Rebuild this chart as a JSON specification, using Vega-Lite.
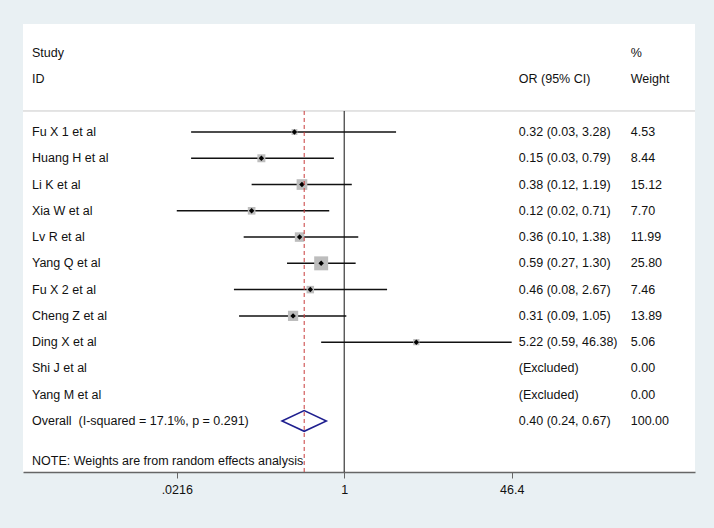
{
  "$schema": "https://vega.github.io/schema/vega-lite/v6.json",
  "width": 672,
  "height": 448,
  "autosize": {"type": "none"},
  "padding": {"left": 23, "top": 24, "right": 19, "bottom": 56},
  "background": "#e9f0f3",
  "view": {"fill": "white", "stroke": null},
  "config": {
    "font": "Liberation Sans",
    "text": {"font": "Liberation Sans", "fontSize": 12.5, "color": "#111111", "baseline": "middle", "align": "left"}
  },
  "datasets": {
    "studies": [
      {"row": 1, "study": "Fu X 1 et al", "type": "study", "or": 0.32, "lower": 0.03, "upper": 3.28, "weight": 4.53, "ci": "0.32 (0.03, 3.28)", "wlabel": "4.53"},
      {"row": 2, "study": "Huang H et al", "type": "study", "or": 0.15, "lower": 0.03, "upper": 0.79, "weight": 8.44, "ci": "0.15 (0.03, 0.79)", "wlabel": "8.44"},
      {"row": 3, "study": "Li K et al", "type": "study", "or": 0.38, "lower": 0.12, "upper": 1.19, "weight": 15.12, "ci": "0.38 (0.12, 1.19)", "wlabel": "15.12"},
      {"row": 4, "study": "Xia W et al", "type": "study", "or": 0.12, "lower": 0.0216, "upper": 0.71, "weight": 7.70, "ci": "0.12 (0.02, 0.71)", "wlabel": "7.70"},
      {"row": 5, "study": "Lv R et al", "type": "study", "or": 0.36, "lower": 0.10, "upper": 1.38, "weight": 11.99, "ci": "0.36 (0.10, 1.38)", "wlabel": "11.99"},
      {"row": 6, "study": "Yang Q et al", "type": "study", "or": 0.59, "lower": 0.27, "upper": 1.30, "weight": 25.80, "ci": "0.59 (0.27, 1.30)", "wlabel": "25.80"},
      {"row": 7, "study": "Fu X 2 et al", "type": "study", "or": 0.46, "lower": 0.08, "upper": 2.67, "weight": 7.46, "ci": "0.46 (0.08, 2.67)", "wlabel": "7.46"},
      {"row": 8, "study": "Cheng Z et al", "type": "study", "or": 0.31, "lower": 0.09, "upper": 1.05, "weight": 13.89, "ci": "0.31 (0.09, 1.05)", "wlabel": "13.89"},
      {"row": 9, "study": "Ding X et al", "type": "study", "or": 5.22, "lower": 0.59, "upper": 46.38, "weight": 5.06, "ci": "5.22 (0.59, 46.38)", "wlabel": "5.06"},
      {"row": 10, "study": "Shi J et al", "type": "study", "or": null, "lower": null, "upper": null, "weight": 0, "ci": "(Excluded)", "wlabel": "0.00"},
      {"row": 11, "study": "Yang M et al", "type": "study", "or": null, "lower": null, "upper": null, "weight": 0, "ci": "(Excluded)", "wlabel": "0.00"},
      {"row": 12, "study": "Overall\u00a0 (I-squared = 17.1%, p = 0.291)", "type": "overall", "or": 0.40, "lower": 0.24, "upper": 0.67, "weight": 100, "ci": "0.40 (0.24, 0.67)", "wlabel": "100.00"}
    ]
  },
  "data": {"name": "studies"},
  "layer": [
    {
      "transform": [{"filter": "datum.type == 'overall'"}],
      "mark": {"type": "rule", "color": "#c8c8c8", "strokeWidth": 1},
      "encoding": {"y": {"datum": 0.2, "type": "quantitative", "scale": {"domain": [-3.111, 13.943], "reverse": true, "nice": false, "zero": false}, "axis": null}}
    },
    {
      "transform": [{"filter": "datum.type == 'overall'"}],
      "mark": {"type": "rule", "color": "#111111", "strokeWidth": 1},
      "encoding": {
        "x": {"datum": 1, "type": "quantitative", "scale": {"type": "log", "domain": [0.000638, 3088], "nice": false}, "axis": {
          "values": [0.0216, 1, 46.4],
          "labelExpr": "datum.value < 0.5 ? '.0216' : (datum.value < 2 ? '1' : '46.4')",
          "grid": false, "title": null,
          "domainColor": "#666666", "domainWidth": 1.5,
          "tickColor": "#666666", "tickWidth": 1, "tickSize": 6,
          "labelFont": "Liberation Sans", "labelFontSize": 12.5, "labelColor": "#111111",
          "labelPadding": 5, "labelFlush": false, "labelOverlap": false
        }},
        "y": {"datum": 0.2, "type": "quantitative"},
        "y2": {"datum": 13.943}
      }
    },
    {
      "transform": [{"filter": "datum.type == 'study' && isValid(datum.lower)"}],
      "mark": {"type": "rule", "color": "#111111", "strokeWidth": 1.5},
      "encoding": {
        "x": {"field": "lower", "type": "quantitative"},
        "x2": {"field": "upper"},
        "y": {"field": "row", "type": "quantitative"}
      }
    },
    {
      "transform": [{"filter": "datum.type == 'study' && isValid(datum.or)"}],
      "mark": {"type": "point", "shape": "square", "filled": true, "color": "#bdbdbd", "opacity": 1},
      "encoding": {
        "x": {"field": "or", "type": "quantitative"},
        "y": {"field": "row", "type": "quantitative"},
        "size": {"field": "weight", "type": "quantitative", "scale": {"domain": [0, 25.8], "range": [0, 195]}, "legend": null}
      }
    },
    {
      "transform": [{"filter": "datum.type == 'study' && isValid(datum.or)"}],
      "mark": {"type": "point", "shape": "diamond", "filled": true, "color": "#000000", "size": 30, "opacity": 1},
      "encoding": {
        "x": {"field": "or", "type": "quantitative"},
        "y": {"field": "row", "type": "quantitative"}
      }
    },
    {
      "transform": [{"filter": "datum.type == 'overall'"}],
      "mark": {"type": "point", "shape": "M-1,0L0,-0.466L1,0L0,0.466Z", "filled": false, "stroke": "#1f1f8f", "strokeWidth": 1.5, "size": 1971, "opacity": 1},
      "encoding": {
        "x": {"field": "or", "type": "quantitative"},
        "y": {"field": "row", "type": "quantitative"}
      }
    },
    {
      "transform": [{"filter": "datum.type == 'overall'"}],
      "mark": {"type": "rule", "color": "#c83a3a", "strokeWidth": 1, "strokeDash": [4, 3]},
      "encoding": {
        "x": {"field": "or", "type": "quantitative"},
        "y": {"datum": 0.2, "type": "quantitative"},
        "y2": {"datum": 13.943}
      }
    },
    {
      "mark": {"type": "text"},
      "encoding": {
        "x": {"datum": 0.000784, "type": "quantitative"},
        "y": {"field": "row", "type": "quantitative"},
        "text": {"field": "study"}
      }
    },
    {
      "mark": {"type": "text"},
      "encoding": {
        "x": {"datum": 54.6, "type": "quantitative"},
        "y": {"field": "row", "type": "quantitative"},
        "text": {"field": "ci"}
      }
    },
    {
      "mark": {"type": "text"},
      "encoding": {
        "x": {"datum": 709, "type": "quantitative"},
        "y": {"field": "row", "type": "quantitative"},
        "text": {"field": "wlabel"}
      }
    },
    {
      "transform": [{"filter": "datum.type == 'overall'"}],
      "mark": {"type": "text", "text": "Study"},
      "encoding": {"x": {"datum": 0.000784, "type": "quantitative"}, "y": {"datum": -2, "type": "quantitative"}}
    },
    {
      "transform": [{"filter": "datum.type == 'overall'"}],
      "mark": {"type": "text", "text": "ID"},
      "encoding": {"x": {"datum": 0.000784, "type": "quantitative"}, "y": {"datum": -1, "type": "quantitative"}}
    },
    {
      "transform": [{"filter": "datum.type == 'overall'"}],
      "mark": {"type": "text", "text": "OR (95% CI)"},
      "encoding": {"x": {"datum": 54.6, "type": "quantitative"}, "y": {"datum": -1, "type": "quantitative"}}
    },
    {
      "transform": [{"filter": "datum.type == 'overall'"}],
      "mark": {"type": "text", "text": "%"},
      "encoding": {"x": {"datum": 709, "type": "quantitative"}, "y": {"datum": -2, "type": "quantitative"}}
    },
    {
      "transform": [{"filter": "datum.type == 'overall'"}],
      "mark": {"type": "text", "text": "Weight"},
      "encoding": {"x": {"datum": 709, "type": "quantitative"}, "y": {"datum": -1, "type": "quantitative"}}
    },
    {
      "transform": [{"filter": "datum.type == 'overall'"}],
      "mark": {"type": "text", "text": "NOTE: Weights are from random effects analysis"},
      "encoding": {"x": {"datum": 0.000784, "type": "quantitative"}, "y": {"datum": 13.52, "type": "quantitative"}}
    }
  ]
}
